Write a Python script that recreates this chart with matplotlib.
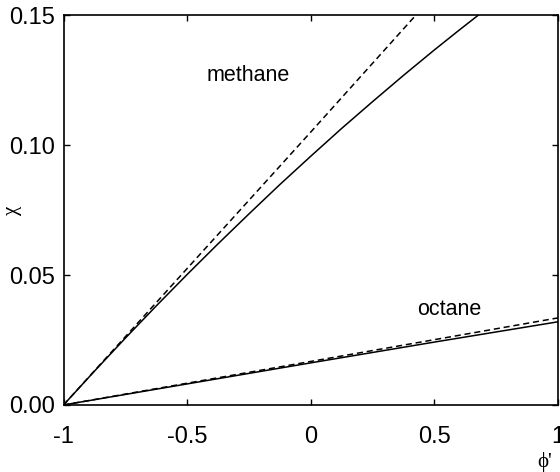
import numpy as np
import matplotlib
matplotlib.use("Agg")
import matplotlib.pyplot as plt

# -------- Data --------
phi_methane = [-1.0, -0.875, -0.75, -0.625, -0.5, -0.375, -0.25, -0.125,
               0.0, 0.125, 0.25, 0.375, 0.5, 0.6, 0.678]
chi_methane = [0.0, 0.0130, 0.0257, 0.0381, 0.0502, 0.0620, 0.0735, 0.0848,
               0.0957, 0.1064, 0.1167, 0.1268, 0.1366, 0.1442, 0.150]

phi_methane_lin = [-1.0, 0.0, 0.43]
chi_methane_lin = [0.0, 0.105, 0.1505]

phi_octane = [-1.0, -0.5, 0.0, 0.5, 1.0]
chi_octane = [0.0, 0.0081, 0.0162, 0.0242, 0.0320]

phi_octane_lin = [-1.0, 1.0]
chi_octane_lin = [0.0, 0.0335]

xticks = [-1, -0.5, 0, 0.5, 1]
xticklabels = ["-1", "-0.5", "0", "0.5", "1"]
yticks = [0.0, 0.05, 0.10, 0.15]
yticklabels = ["0.00", "0.05", "0.10", "0.15"]

# -------- Plot --------
plt.rcParams["font.family"] = ["Liberation Sans", "DejaVu Sans"]

fig = plt.figure(figsize=(5.6, 4.72), dpi=100)
ax = fig.add_axes([0.1134, 0.142, 0.883, 0.826])

ax.plot(phi_methane, chi_methane, color="black", lw=1.1)
ax.plot(phi_methane_lin, chi_methane_lin, color="black", lw=1.1, ls=(0, (4, 2.5)))
ax.plot(phi_octane, chi_octane, color="black", lw=1.1)
ax.plot(phi_octane_lin, chi_octane_lin, color="black", lw=1.1, ls=(0, (4, 2.5)))

ax.set_xlim(-1, 1)
ax.set_ylim(0, 0.15)
ax.set_xticks(xticks)
ax.set_xticklabels(xticklabels)
ax.set_yticks(yticks)
ax.set_yticklabels(yticklabels)
ax.tick_params(direction="in", length=4, width=1, labelsize=17,
               top=True, right=True)
ax.tick_params(axis="x", pad=15)
ax.tick_params(axis="y", pad=6)
for s in ax.spines.values():
    s.set_linewidth(1.2)

ax.text(-0.42, 0.1245, "methane", fontsize=15.5)
ax.text(0.43, 0.0345, "octane", fontsize=15.5)

fig.text(545 / 560, 1 - 462 / 472, "\u03d5'", fontsize=15, family="Liberation Serif",
         ha="center", va="center")
fig.text(13 / 560, 1 - 210 / 472, "\u03c7", fontsize=15, family="Liberation Serif",
         ha="center", va="center", rotation=90)

fig.savefig("out.png", dpi=100)
